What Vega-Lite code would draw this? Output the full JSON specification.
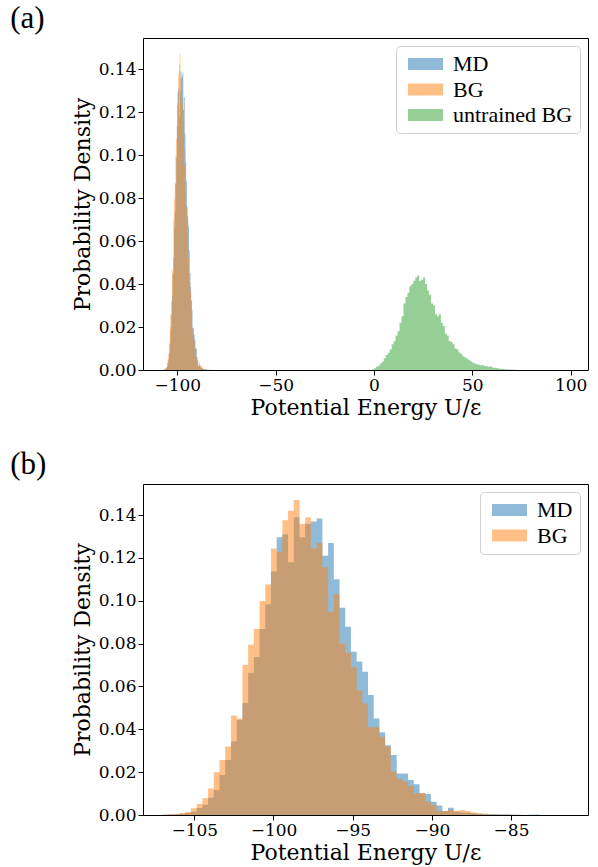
{
  "$schema": "https://vega.github.io/schema/vega-lite/v6.json",
  "background": "white",
  "padding": {"left": 9, "top": 2, "right": 8, "bottom": 2},
  "spacing": 29,
  "config": {
    "view": {"stroke": "#000", "strokeWidth": 1},
    "axis": {"grid": false, "domain": false, "tickColor": "#000", "tickSize": 5, "tickWidth": 1, "labelFont": "DejaVu Serif", "labelFontSize": 17, "labelColor": "#000", "labelPadding": 2, "labelFlush": false, "titleFont": "DejaVu Serif", "titleFontSize": 22, "titleFontWeight": "normal", "titleColor": "#000", "titlePadding": 4},
    "legend": {"orient": "top-right", "offset": 8, "labelFont": "Liberation Serif", "labelFontSize": 22, "labelColor": "#000", "symbolType": "M-1,-1L4.83,-1L4.83,1L-1,1Z", "symbolSize": 144, "symbolOpacity": 0.5, "symbolStrokeWidth": 0, "fillColor": "#fff", "strokeColor": "#d0d0d0", "cornerRadius": 4, "padding": 7, "rowPadding": 3.5, "labelOffset": 28},
    "title": {"font": "Liberation Serif", "fontSize": 31, "fontWeight": "normal", "color": "#000", "anchor": "start", "frame": "bounds"}
  },
  "datasets": {
    "mdbg": [
      {"x0": -107.01, "x1": -106.65, "MD": 0.0001, "BG": 0.0002},
      {"x0": -106.65, "x1": -106.29, "MD": 0.0002, "BG": 0.0003},
      {"x0": -106.29, "x1": -105.93, "MD": 0.0003, "BG": 0.0005},
      {"x0": -105.93, "x1": -105.57, "MD": 0.0006, "BG": 0.0009},
      {"x0": -105.57, "x1": -105.21, "MD": 0.0009, "BG": 0.0014},
      {"x0": -105.21, "x1": -104.85, "MD": 0.0015, "BG": 0.0031},
      {"x0": -104.85, "x1": -104.49, "MD": 0.0033, "BG": 0.0051},
      {"x0": -104.49, "x1": -104.13, "MD": 0.0048, "BG": 0.0078},
      {"x0": -104.13, "x1": -103.77, "MD": 0.008, "BG": 0.0124},
      {"x0": -103.77, "x1": -103.41, "MD": 0.0117, "BG": 0.02},
      {"x0": -103.41, "x1": -103.05, "MD": 0.0187, "BG": 0.0257},
      {"x0": -103.05, "x1": -102.68, "MD": 0.0257, "BG": 0.032},
      {"x0": -102.68, "x1": -102.32, "MD": 0.0343, "BG": 0.0465},
      {"x0": -102.32, "x1": -101.96, "MD": 0.0443, "BG": 0.045},
      {"x0": -101.96, "x1": -101.6, "MD": 0.0523, "BG": 0.07},
      {"x0": -101.6, "x1": -101.24, "MD": 0.0664, "BG": 0.0795},
      {"x0": -101.24, "x1": -100.88, "MD": 0.0737, "BG": 0.0868},
      {"x0": -100.88, "x1": -100.52, "MD": 0.0868, "BG": 0.0999},
      {"x0": -100.52, "x1": -100.16, "MD": 0.0984, "BG": 0.1076},
      {"x0": -100.16, "x1": -99.8, "MD": 0.1136, "BG": 0.1244},
      {"x0": -99.8, "x1": -99.44, "MD": 0.1297, "BG": 0.1229},
      {"x0": -99.44, "x1": -99.08, "MD": 0.131, "BG": 0.1376},
      {"x0": -99.08, "x1": -98.72, "MD": 0.118, "BG": 0.142},
      {"x0": -98.72, "x1": -98.36, "MD": 0.139, "BG": 0.147},
      {"x0": -98.36, "x1": -98.0, "MD": 0.1296, "BG": 0.1358},
      {"x0": -98.0, "x1": -97.64, "MD": 0.136, "BG": 0.139},
      {"x0": -97.64, "x1": -97.27, "MD": 0.137, "BG": 0.1244},
      {"x0": -97.27, "x1": -96.91, "MD": 0.1384, "BG": 0.127},
      {"x0": -96.91, "x1": -96.55, "MD": 0.121, "BG": 0.1156},
      {"x0": -96.55, "x1": -96.19, "MD": 0.127, "BG": 0.0949},
      {"x0": -96.19, "x1": -95.83, "MD": 0.11, "BG": 0.103},
      {"x0": -95.83, "x1": -95.47, "MD": 0.0967, "BG": 0.08},
      {"x0": -95.47, "x1": -95.11, "MD": 0.0879, "BG": 0.0757},
      {"x0": -95.11, "x1": -94.75, "MD": 0.0762, "BG": 0.069},
      {"x0": -94.75, "x1": -94.39, "MD": 0.0716, "BG": 0.058},
      {"x0": -94.39, "x1": -94.03, "MD": 0.0669, "BG": 0.052},
      {"x0": -94.03, "x1": -93.67, "MD": 0.056, "BG": 0.041},
      {"x0": -93.67, "x1": -93.31, "MD": 0.0451, "BG": 0.041},
      {"x0": -93.31, "x1": -92.95, "MD": 0.0386, "BG": 0.0365},
      {"x0": -92.95, "x1": -92.59, "MD": 0.0325, "BG": 0.0319},
      {"x0": -92.59, "x1": -92.22, "MD": 0.028, "BG": 0.0202},
      {"x0": -92.22, "x1": -91.86, "MD": 0.0194, "BG": 0.0168},
      {"x0": -91.86, "x1": -91.5, "MD": 0.0194, "BG": 0.0156},
      {"x0": -91.5, "x1": -91.14, "MD": 0.0163, "BG": 0.0135},
      {"x0": -91.14, "x1": -90.78, "MD": 0.0143, "BG": 0.0101},
      {"x0": -90.78, "x1": -90.42, "MD": 0.0101, "BG": 0.0101},
      {"x0": -90.42, "x1": -90.06, "MD": 0.0098, "BG": 0.0062},
      {"x0": -90.06, "x1": -89.7, "MD": 0.0062, "BG": 0.0047},
      {"x0": -89.7, "x1": -89.34, "MD": 0.0044, "BG": 0.0019},
      {"x0": -89.34, "x1": -88.98, "MD": 0.0019, "BG": 0.0019},
      {"x0": -88.98, "x1": -88.62, "MD": 0.0034, "BG": 0.0023},
      {"x0": -88.62, "x1": -88.26, "MD": 0.0016, "BG": 0.0019},
      {"x0": -88.26, "x1": -87.9, "MD": 0.0012, "BG": 0.0023},
      {"x0": -87.9, "x1": -87.54, "MD": 0.001, "BG": 0.0019},
      {"x0": -87.54, "x1": -87.17, "MD": 0.0008, "BG": 0.0012},
      {"x0": -87.17, "x1": -86.81, "MD": 0.0006, "BG": 0.0008},
      {"x0": -86.81, "x1": -86.45, "MD": 0.0005, "BG": 0.0006},
      {"x0": -86.45, "x1": -86.09, "MD": 0.0004, "BG": 0.0003},
      {"x0": -86.09, "x1": -85.73, "MD": 0.0003, "BG": 0.0002},
      {"x0": -85.73, "x1": -85.37, "MD": 0.0002, "BG": 0.0002},
      {"x0": -85.37, "x1": -85.01, "MD": 0.0003, "BG": 0.0001},
      {"x0": -85.01, "x1": -84.65, "MD": 0.0001, "BG": 0.0001},
      {"x0": -84.65, "x1": -84.29, "MD": 0.0001, "BG": 0},
      {"x0": -84.29, "x1": -83.93, "MD": 0, "BG": 0},
      {"x0": -83.93, "x1": -83.57, "MD": 0.0001, "BG": 0},
      {"x0": -83.57, "x1": -83.21, "MD": 0.0002, "BG": 0},
      {"x0": -83.21, "x1": -82.85, "MD": 0, "BG": 0},
      {"x0": -82.85, "x1": -82.48, "MD": 0, "BG": 0},
      {"x0": -82.48, "x1": -82.12, "MD": 0, "BG": 0},
      {"x0": -82.12, "x1": -81.76, "MD": 0, "BG": 0},
      {"x0": -81.76, "x1": -81.4, "MD": 0.0001, "BG": 0}
    ],
    "ubg": [
      {"x0": -1, "x1": 0, "d": 0.0002},
      {"x0": 0, "x1": 1, "d": 0.0008},
      {"x0": 1, "x1": 2, "d": 0.0015},
      {"x0": 2, "x1": 3, "d": 0.002},
      {"x0": 3, "x1": 4, "d": 0.003},
      {"x0": 4, "x1": 5, "d": 0.004},
      {"x0": 5, "x1": 6, "d": 0.0055},
      {"x0": 6, "x1": 7, "d": 0.007},
      {"x0": 7, "x1": 8, "d": 0.008},
      {"x0": 8, "x1": 9, "d": 0.0095},
      {"x0": 9, "x1": 10, "d": 0.012},
      {"x0": 10, "x1": 11, "d": 0.0135},
      {"x0": 11, "x1": 12, "d": 0.016},
      {"x0": 12, "x1": 13, "d": 0.018},
      {"x0": 13, "x1": 14, "d": 0.022},
      {"x0": 14, "x1": 15, "d": 0.025},
      {"x0": 15, "x1": 16, "d": 0.031},
      {"x0": 16, "x1": 17, "d": 0.034},
      {"x0": 17, "x1": 18, "d": 0.036},
      {"x0": 18, "x1": 19, "d": 0.039},
      {"x0": 19, "x1": 20, "d": 0.04},
      {"x0": 20, "x1": 21, "d": 0.0415},
      {"x0": 21, "x1": 22, "d": 0.043},
      {"x0": 22, "x1": 23, "d": 0.044},
      {"x0": 23, "x1": 24, "d": 0.0415},
      {"x0": 24, "x1": 25, "d": 0.042},
      {"x0": 25, "x1": 26, "d": 0.043},
      {"x0": 26, "x1": 27, "d": 0.04},
      {"x0": 27, "x1": 28, "d": 0.037},
      {"x0": 28, "x1": 29, "d": 0.035},
      {"x0": 29, "x1": 30, "d": 0.031},
      {"x0": 30, "x1": 31, "d": 0.03},
      {"x0": 31, "x1": 32, "d": 0.026},
      {"x0": 32, "x1": 33, "d": 0.025},
      {"x0": 33, "x1": 34, "d": 0.026},
      {"x0": 34, "x1": 35, "d": 0.022},
      {"x0": 35, "x1": 36, "d": 0.0205},
      {"x0": 36, "x1": 37, "d": 0.017},
      {"x0": 37, "x1": 38, "d": 0.016},
      {"x0": 38, "x1": 39, "d": 0.0135},
      {"x0": 39, "x1": 40, "d": 0.013},
      {"x0": 40, "x1": 41, "d": 0.012},
      {"x0": 41, "x1": 42, "d": 0.01},
      {"x0": 42, "x1": 43, "d": 0.0095},
      {"x0": 43, "x1": 44, "d": 0.0082},
      {"x0": 44, "x1": 45, "d": 0.0075},
      {"x0": 45, "x1": 46, "d": 0.0064},
      {"x0": 46, "x1": 47, "d": 0.0058},
      {"x0": 47, "x1": 48, "d": 0.0052},
      {"x0": 48, "x1": 49, "d": 0.0045},
      {"x0": 49, "x1": 50, "d": 0.004},
      {"x0": 50, "x1": 51, "d": 0.0034},
      {"x0": 51, "x1": 52, "d": 0.003},
      {"x0": 52, "x1": 53, "d": 0.0027},
      {"x0": 53, "x1": 54, "d": 0.0025},
      {"x0": 54, "x1": 55, "d": 0.0022},
      {"x0": 55, "x1": 56, "d": 0.0022},
      {"x0": 56, "x1": 57, "d": 0.0019},
      {"x0": 57, "x1": 58, "d": 0.0017},
      {"x0": 58, "x1": 59, "d": 0.0015},
      {"x0": 59, "x1": 60, "d": 0.0018},
      {"x0": 60, "x1": 61, "d": 0.0012},
      {"x0": 61, "x1": 62, "d": 0.001},
      {"x0": 62, "x1": 63, "d": 0.0009},
      {"x0": 63, "x1": 64, "d": 0.0007},
      {"x0": 64, "x1": 65, "d": 0.0006},
      {"x0": 65, "x1": 66, "d": 0.0005},
      {"x0": 66, "x1": 67, "d": 0.0004},
      {"x0": 67, "x1": 68, "d": 0.0003},
      {"x0": 68, "x1": 69, "d": 0.0002},
      {"x0": 69, "x1": 70, "d": 0.0002},
      {"x0": 70, "x1": 71, "d": 0.0001},
      {"x0": 71, "x1": 72, "d": 0.0001},
      {"x0": 72, "x1": 73, "d": 0.0001}
    ]
  },
  "resolve": {"scale": {"color": "independent"}},
  "vconcat": [
    {
      "width": 445,
      "height": 332,
      "title": {"text": "(a)", "dx": -61, "offset": 3},
      "layer": [
        {
          "data": {"name": "mdbg"},
          "transform": [{"fold": ["MD", "BG"], "as": ["s", "d"]}],
          "mark": {"type": "area", "interpolate": "step-after", "opacity": 0.5},
          "encoding": {
            "x": {"field": "x0", "type": "quantitative", "scale": {"domain": [-117.4, 108.8], "nice": false, "zero": false}, "axis": {"values": [-100, -50, 0, 50, 100], "format": "d", "title": "Potential Energy U/ε"}},
            "y": {"field": "d", "type": "quantitative", "stack": null, "scale": {"domain": [0, 0.1545], "nice": false}, "axis": {"values": [0, 0.02, 0.04, 0.06, 0.08, 0.1, 0.12, 0.14], "format": ".2f", "title": "Probability Density"}},
            "color": {"field": "s", "type": "nominal", "scale": {"domain": ["MD", "BG", "untrained BG"], "range": ["#1f77b4", "#ff7f0e", "#2ca02c"]}, "legend": {"title": null}}
          }
        },
        {
          "data": {"name": "ubg"},
          "mark": {"type": "area", "interpolate": "step-after", "opacity": 0.5},
          "encoding": {
            "x": {"field": "x0", "type": "quantitative"},
            "y": {"field": "d", "type": "quantitative", "stack": null},
            "color": {"datum": "untrained BG"}
          }
        }
      ]
    },
    {
      "width": 445,
      "height": 331,
      "title": {"text": "(b)", "dx": -61, "offset": 3},
      "data": {"name": "mdbg"},
      "transform": [{"fold": ["MD", "BG"], "as": ["s", "d"]}],
      "mark": {"type": "area", "interpolate": "step-after", "opacity": 0.5},
      "encoding": {
        "x": {"field": "x0", "type": "quantitative", "scale": {"domain": [-108.24, -80.14], "nice": false, "zero": false}, "axis": {"values": [-105, -100, -95, -90, -85], "format": "d", "title": "Potential Energy U/ε"}},
        "y": {"field": "d", "type": "quantitative", "stack": null, "scale": {"domain": [0, 0.1545], "nice": false}, "axis": {"values": [0, 0.02, 0.04, 0.06, 0.08, 0.1, 0.12, 0.14], "format": ".2f", "title": "Probability Density"}},
        "color": {"field": "s", "type": "nominal", "scale": {"domain": ["MD", "BG"], "range": ["#1f77b4", "#ff7f0e"]}, "legend": {"title": null}}
      }
    }
  ]
}
